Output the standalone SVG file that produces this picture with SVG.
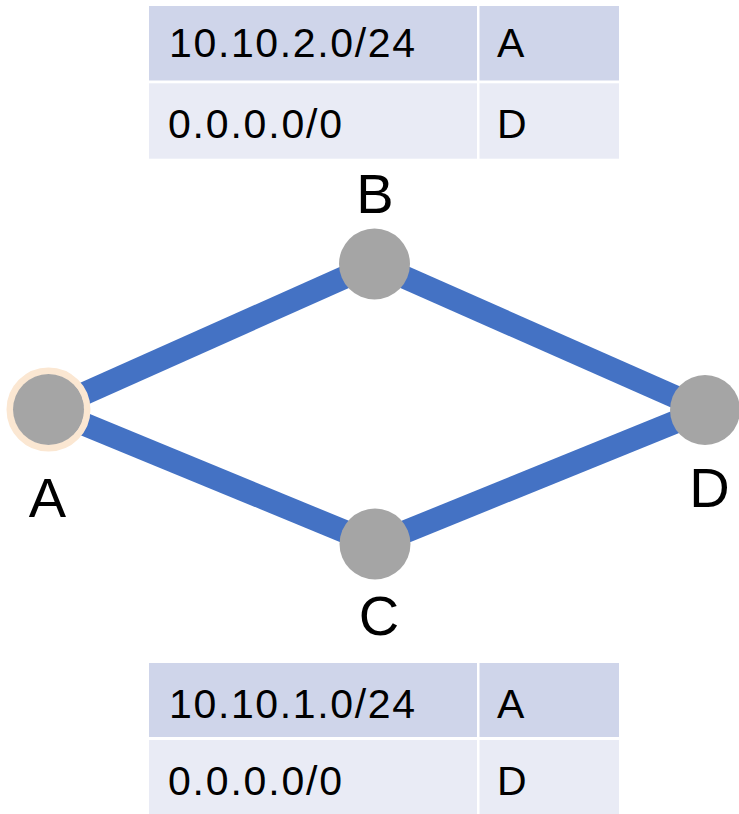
<svg xmlns="http://www.w3.org/2000/svg" width="739" height="814" viewBox="0 0 739 814">
<style>
.hdr{fill:#CFD5EA}
.row{fill:#E9EBF5}
.cell{font-family:"Liberation Sans",Arial,sans-serif;font-size:41px;fill:#000}
.lbl{font-family:"Liberation Sans",Arial,sans-serif;font-size:56px;fill:#000;text-anchor:middle}
.link{stroke:#4472C4;stroke-width:23;fill:none}
.node{fill:#A5A5A5}
</style>
<rect width="739" height="814" fill="#fff"/>
<g id="table-top">
<rect class="hdr" x="149" y="6" width="328" height="74.5"/>
<rect class="hdr" x="479.5" y="6" width="139.5" height="74.5"/>
<rect class="row" x="149" y="83.3" width="328" height="75.4"/>
<rect class="row" x="479.5" y="83.3" width="139.5" height="75.4"/>
<text class="cell" x="169" y="57" textLength="246" lengthAdjust="spacing">10.10.2.0/24</text>
<text class="cell" x="497" y="57">A</text>
<text class="cell" x="168" y="138" textLength="174" lengthAdjust="spacing">0.0.0.0/0</text>
<text class="cell" x="497" y="138">D</text>
</g>
<g id="table-bottom">
<rect class="hdr" x="149" y="663" width="328" height="74"/>
<rect class="hdr" x="479.5" y="663" width="139.5" height="74"/>
<rect class="row" x="149" y="740" width="328" height="74"/>
<rect class="row" x="479.5" y="740" width="139.5" height="74"/>
<text class="cell" x="169" y="718" textLength="246" lengthAdjust="spacing">10.10.1.0/24</text>
<text class="cell" x="497" y="718">A</text>
<text class="cell" x="168" y="795" textLength="174" lengthAdjust="spacing">0.0.0.0/0</text>
<text class="cell" x="497" y="795">D</text>
</g>
<g id="connectors">
<line class="link" x1="48.5" y1="409.5" x2="374.5" y2="264"/>
<line class="link" x1="374.5" y1="264" x2="705" y2="410"/>
<line class="link" x1="48.5" y1="409.5" x2="375" y2="544"/>
<line class="link" x1="375" y1="544" x2="705" y2="410"/>
</g>
<g id="node-A">
<circle cx="48.5" cy="409.5" r="38.5" fill="none" stroke="#FBE7D2" stroke-width="7"/>
<circle class="node" cx="48.5" cy="409.5" r="35.5"/>
<text class="lbl" x="47.5" y="517">A</text>
</g>
<g id="node-B">
<circle class="node" cx="374.5" cy="264" r="35.5"/>
<text class="lbl" x="375" y="213">B</text>
</g>
<g id="node-C">
<circle class="node" cx="375" cy="544" r="35.5"/>
<text class="lbl" x="379" y="635">C</text>
</g>
<g id="node-D">
<circle class="node" cx="705" cy="410" r="35"/>
<text class="lbl" x="709.5" y="507">D</text>
</g>
</svg>
